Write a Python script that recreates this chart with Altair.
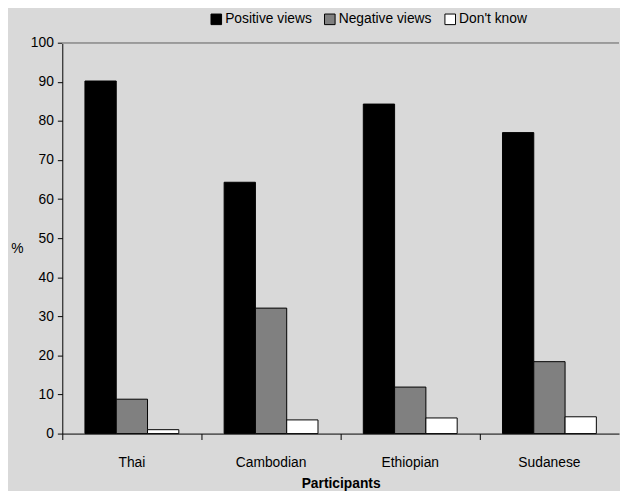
import altair as alt
import pandas as pd

categories = ["Thai", "Cambodian", "Ethiopian", "Sudanese"]
series = ["Positive views", "Negative views", "Don't know"]
positive = [90.2, 64.3, 84.3, 77.0]
negative = [8.8, 32.1, 11.9, 18.4]
dont_know = [1.0, 3.5, 4.0, 4.3]
colors = ["#000000", "#808080", "#ffffff"]
y_ticks = list(range(0, 101, 10))

rows = []
for i, c in enumerate(categories):
    for s, vals in zip(series, [positive, negative, dont_know]):
        rows.append({"Participants": c, "View": s, "Percent": vals[i]})
df = pd.DataFrame(rows)

font = "Liberation Sans"

y_axis = alt.Axis(
    title="%",
    titleAngle=0,
    titleX=-46,
    titleY=209,
    titleAlign="center",
    titleBaseline="middle",
    titleFontSize=14,
    titleFontWeight="normal",
    values=y_ticks,
    tickCount=11,
    labelOverlap=False,
    tickSize=5,
    labelPadding=4,
    labelFontSize=14,
    domainColor="#000000",
    tickColor="#000000",
    labelColor="#000000",
    titleColor="#000000",
    labelFont=font,
    titleFont=font,
    grid=False,
)
y_scale = alt.Scale(domain=[0, 100], nice=False)

bars = alt.Chart(df).mark_bar(stroke="#000000", strokeWidth=1, opacity=1).encode(
    x=alt.X(
        "Participants:N",
        sort=categories,
        scale=alt.Scale(paddingInner=0, paddingOuter=0),
        axis=alt.Axis(
            title="Participants",
            labelAngle=0,
            bandPosition=0,
            tickExtra=False,
            tickSize=6,
            labelPadding=16,
            titlePadding=8,
            labelFontSize=14,
            titleFontSize=14,
            titleFontWeight="bold",
            domainColor="#000000",
            tickColor="#000000",
            labelColor="#000000",
            titleColor="#000000",
            labelFont=font,
            titleFont=font,
            grid=False,
        ),
    ),
    xOffset=alt.XOffset(
        "View:N",
        sort=series,
        scale=alt.Scale(domain=series, paddingInner=0, paddingOuter=0.724),
    ),
    y=alt.Y("Percent:Q", scale=y_scale, axis=y_axis),
    color=alt.Color(
        "View:N",
        sort=series,
        scale=alt.Scale(domain=series, range=colors),
        legend=alt.Legend(
            title=None,
            orient="none",
            direction="horizontal",
            legendX=149,
            legendY=-31,
            symbolType="square",
            symbolSize=115,
            symbolStrokeColor="#000000",
            symbolStrokeWidth=1,
            labelFontSize=14,
            labelFont=font,
            labelColor="#000000",
            labelOffset=2,
            columnPadding=10,
            padding=0,
        ),
    ),
)

top_line = alt.Chart(df).mark_rule(color="#9a9a9a", strokeWidth=1).encode(
    y=alt.Y(datum=100, scale=y_scale, axis=y_axis)
)

chart = alt.layer(bars, top_line).properties(
    width=564,
    height=396,
    background="#d9d9d9",
    autosize=alt.AutoSizeParams(type="none"),
    padding={"left": 55, "top": 32, "right": 1, "bottom": 55},
).configure_view(stroke=None)

chart.save("out.html", embed_options={"renderer": "svg", "actions": False})
